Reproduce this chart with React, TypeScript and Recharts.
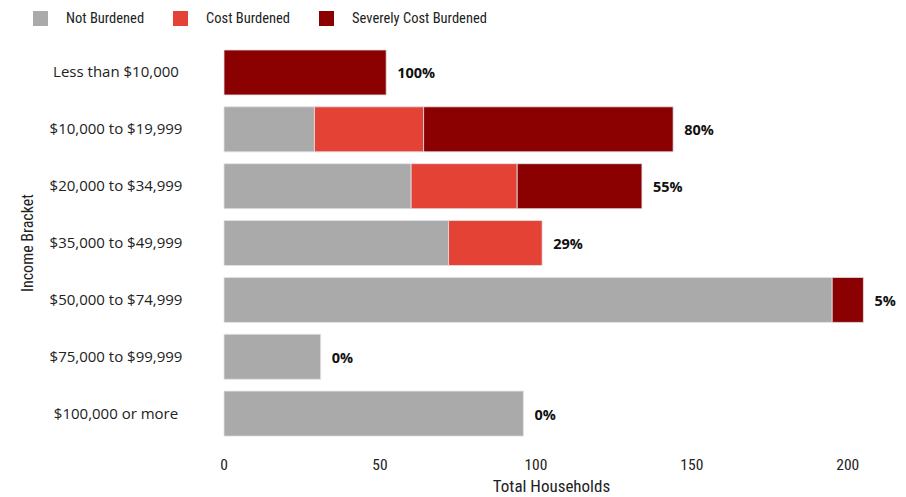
import { BarChart, Bar, XAxis, YAxis, LabelList } from "recharts";

const brackets = [
  "Less than $10,000",
  "$10,000 to $19,999",
  "$20,000 to $34,999",
  "$35,000 to $49,999",
  "$50,000 to $74,999",
  "$75,000 to $99,999",
  "$100,000 or more",
];
const notBurdened = [0, 29, 60, 72, 195, 31, 96];
const costBurdened = [0, 35, 34, 30, 0, 0, 0];
const severelyBurdened = [52, 80, 40, 0, 10, 0, 0];
const pctLabels = ["100%", "80%", "55%", "29%", "5%", "0%", "0%"];
const xTicks = [0, 50, 100, 150, 200];

const SERIES = [
  { key: "notBurdened", name: "Not Burdened", color: "#aaaaaa" },
  { key: "costBurdened", name: "Cost Burdened", color: "#e34234" },
  { key: "severe", name: "Severely Cost Burdened", color: "#8b0000" },
];

const data = brackets.map((bracket, i) => ({
  bracket,
  notBurdened: notBurdened[i],
  costBurdened: costBurdened[i],
  severe: severelyBurdened[i],
  pct: pctLabels[i],
}));

// which series is the last non-zero segment of each row (label goes after it)
const lastKey = data.map((row: any) => {
  let k = SERIES[0].key;
  SERIES.forEach((s) => {
    if (row[s.key] > 0) k = s.key;
  });
  return k;
});

const NARROW = "'Roboto Condensed', 'Liberation Sans Narrow', 'Roboto', sans-serif";
const SANS = "'Open Sans', sans-serif";

function LegendBox() {
  return (
    <div
      style={{
        position: "absolute",
        left: 33,
        top: 10,
        display: "flex",
        alignItems: "center",
        fontFamily: NARROW,
        fontSize: 14.5,
        color: "#222",
      }}
    >
      {SERIES.map((s) => (
        <div key={s.key} style={{ display: "flex", alignItems: "center", marginRight: 29 }}>
          <span style={{ width: 15, height: 15, background: s.color, marginRight: 18, display: "inline-block" }} />
          <span>{s.name}</span>
        </div>
      ))}
    </div>
  );
}

const CategoryTick = (props: any) => {
  const { y, payload } = props;
  return (
    <text x={116} y={y} dy={5} textAnchor="middle" fontFamily={SANS} fontSize={15} fill="#222">
      {payload.value}
    </text>
  );
};

// label value is the bracket name, so we can find the row even when
// zero-width segments are dropped from the list
const makePctLabel = (seriesKey: string) => (props: any) => {
  const { x, y, width, height, value } = props;
  const i = brackets.indexOf(value);
  if (i < 0 || lastKey[i] !== seriesKey) return null;
  return (
    <text
      x={Number(x) + Number(width) + 11}
      y={Number(y) + Number(height) / 2 + 6}
      fontFamily={SANS}
      fontWeight={700}
      fontSize={14.5}
      fill="#111"
    >
      {pctLabels[i]}
    </text>
  );
};

export default function App() {
  return (
    <div style={{ position: "absolute", left: 0, top: 0, width: 906, height: 497, background: "#fff" }}>
      <LegendBox />
      <BarChart
        width={906}
        height={497}
        data={data}
        layout="vertical"
        barCategoryGap="10.5%"
        margin={{ top: 44, right: 27, left: 0, bottom: 6 }}
      >
        <XAxis
          type="number"
          domain={[0, 210]}
          ticks={xTicks}
          height={49}
          axisLine={false}
          tickLine={false}
          tick={{ fill: "#222", fontSize: 15.5, fontFamily: NARROW }}
          tickMargin={11}
          label={{
            value: "Total Households",
            position: "insideBottom",
            offset: -1,
            fill: "#222",
            fontSize: 17,
            fontFamily: NARROW,
          }}
        />
        <YAxis
          type="category"
          dataKey="bracket"
          width={224}
          axisLine={false}
          tickLine={false}
          tick={<CategoryTick />}
          label={{
            value: "Income Bracket",
            angle: -90,
            position: "insideLeft",
            offset: 27,
            style: { textAnchor: "middle" },
            fill: "#222",
            fontSize: 16,
            fontFamily: NARROW,
          }}
        />
        {SERIES.map((s) => (
          <Bar
            key={s.key}
            dataKey={s.key}
            name={s.name}
            stackId="a"
            fill={s.color}
            stroke="#e2e2ea"
            strokeWidth={0.8}
            isAnimationActive={false}
          >
            <LabelList dataKey="bracket" content={makePctLabel(s.key)} />
          </Bar>
        ))}
      </BarChart>
    </div>
  );
}
